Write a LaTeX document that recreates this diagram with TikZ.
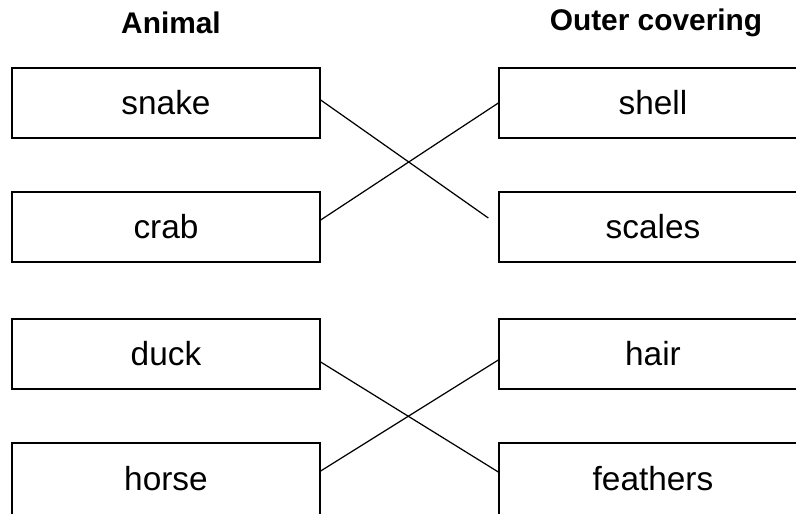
\documentclass[tikz,border=0pt]{standalone}
\usepackage{fontspec}
\setmainfont{Liberation Sans}
\usepackage{tikz}

\begin{document}
\begin{tikzpicture}[x=0.02cm, y=-0.02cm,
  itembox/.style={rectangle, draw=black, line width=0.8pt, inner sep=0pt,
    minimum width=6.16cm, minimum height=1.4cm, font=\fontsize{19}{23}\selectfont},
  lastrow/.style={minimum height=1.68cm, text depth=0.28cm},
  heading/.style={font=\bfseries\fontsize{17}{20}\selectfont},
  match/.style={draw=black, line width=0.7pt}]
\clip (0,0) rectangle (796,514);

\node[heading] (animal) at (171, 23) {Animal};
\node[heading] (covering) at (656, 23) {Outer covering};

% left column
\node[itembox] (snake) at (166, 103) {snake};
\node[itembox] (crab) at (166, 227) {crab};
\node[itembox] (duck) at (166, 354) {duck};
\node[itembox, lastrow] (horse) at (166, 485) {horse};

% right column
\node[itembox] (shell) at (653, 103) {shell};
\node[itembox] (scales) at (653, 227) {scales};
\node[itembox] (hair) at (653, 354) {hair};
\node[itembox, lastrow] (feathers) at (653, 485) {feathers};

% matching lines
\draw[match] ([yshift=0.06cm]snake.east) -- ([xshift=-0.2cm, yshift=0.18cm]scales.west);
\draw[match] ([yshift=0.14cm]crab.east) -- (shell.west);
\draw[match] ([yshift=-0.16cm]duck.east) -- ([yshift=0.26cm]feathers.west);
\draw[match] ([yshift=0.28cm]horse.east) -- ([yshift=-0.12cm]hair.west);
\end{tikzpicture}
\end{document}
